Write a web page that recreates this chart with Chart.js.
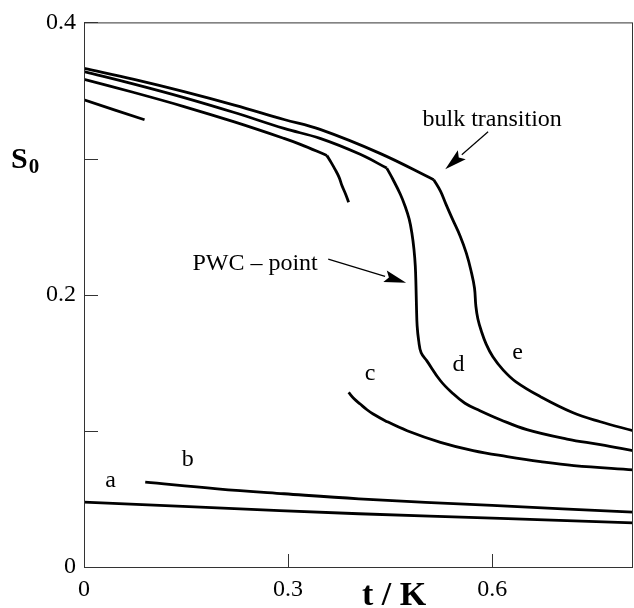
<!DOCTYPE html>
<html>
<head>
<meta charset="utf-8">
<script src="https://cdn.jsdelivr.net/npm/chart.js@4.4.1/dist/chart.umd.min.js"></script>
<style>
  html, body { margin: 0; padding: 0; background: #fff; }
</style>
</head>
<body>
<canvas id="chart" width="634" height="608"></canvas>
<script>
// values: t/K on x, S0 on y
// each curve with a corner is split into the branch before and after it
const eHighT = [0, 0.0735, 0.147, 0.221, 0.294, 0.347, 0.435, 0.514];
const eHighS = [0.3663, 0.3582, 0.3492, 0.3393, 0.3287, 0.3214, 0.3038, 0.2845];
const eLowT = [0.514, 0.524, 0.532, 0.541, 0.553, 0.562, 0.569, 0.574, 0.576, 0.579, 0.584, 0.591, 0.601, 0.616, 0.635, 0.671, 0.719, 0.759, 0.807];
const eLowS = [0.2845, 0.2760, 0.2665, 0.2562, 0.2430, 0.2305, 0.2174, 0.2049, 0.1917, 0.1822, 0.1734, 0.1639, 0.1544, 0.1448, 0.1360, 0.1251, 0.1133, 0.1067, 0.1001];

const dHighT = [0, 0.0735, 0.147, 0.221, 0.294, 0.347, 0.406, 0.445];
const dHighS = [0.3639, 0.3547, 0.3448, 0.3338, 0.3221, 0.3148, 0.3031, 0.2930];
const dLowT = [0.445, 0.454, 0.465, 0.472, 0.478, 0.482, 0.485, 0.487, 0.488, 0.4887, 0.4897, 0.492, 0.4956, 0.504, 0.524, 0.541, 0.560, 0.582, 0.612, 0.651, 0.710, 0.759, 0.807];
const dLowS = [0.2930, 0.2848, 0.2738, 0.2650, 0.2555, 0.2452, 0.2335, 0.2210, 0.2064, 0.1917, 0.1771, 0.1661, 0.1573, 0.1514, 0.1368, 0.1280, 0.1203, 0.1148, 0.1082, 0.1009, 0.0940, 0.0899, 0.0855];

// third upper branch (ends near t = 0.39)
const fHighT = [0, 0.0735, 0.147, 0.221, 0.294, 0.318, 0.357];
const fHighS = [0.3582, 0.3485, 0.3382, 0.3269, 0.3148, 0.3104, 0.3023];
const fLowT = [0.357, 0.3632, 0.369, 0.375, 0.379, 0.3846, 0.389];
const fLowS = [0.3023, 0.2972, 0.2921, 0.2862, 0.2804, 0.2738, 0.2679];

// short branch top left
const shortT = [0, 0.089];
const shortS = [0.3431, 0.3285];

const cT = [0.389, 0.397, 0.406, 0.416, 0.425, 0.4426, 0.475, 0.524, 0.572, 0.622, 0.671, 0.720, 0.807];
const cS = [0.1282, 0.1236, 0.1197, 0.1155, 0.1124, 0.1075, 0.1001, 0.0916, 0.0855, 0.0811, 0.0774, 0.0745, 0.0714];

const bT = [0.090, 0.196, 0.294, 0.404, 0.600, 0.807];
const bS = [0.0623, 0.0574, 0.0538, 0.0501, 0.0452, 0.0403];

const aT = [0, 0.171, 0.404, 0.612, 0.807];
const aS = [0.0476, 0.0440, 0.0391, 0.0357, 0.0324];

const xTicks = [0, 0.3, 0.6];
const xTickLabels = ['0', '0.3', '0.6'];
const yTicks = [0, 0.1, 0.2, 0.3, 0.4];
const yTickLabels = ['0', '', '0.2', '', '0.4'];

const curveNames = ['a', 'b', 'c', 'd', 'e'];
const curveNameT = [0.039, 0.1525, 0.4206, 0.5504, 0.6375];
const curveNameS = [0.0635, 0.0787, 0.1417, 0.1485, 0.1575];

// annotation arrows: text position, arrow start, arrow tip (data units)
const notes = [
  { text: 'bulk transition', t: 0.600, s: 0.3287, from: [0.594, 0.3197], to: [0.531, 0.2921] },
  { text: 'PWC \u2013 point', t: 0.2515, s: 0.2225, from: [0.359, 0.2261], to: [0.4735, 0.2088] }
];

function pts(xs, ys) {
  return xs.map((x, i) => ({ x: x, y: ys[i] }));
}

function line(xs, ys) {
  return {
    data: pts(xs, ys),
    showLine: true,
    borderColor: '#000',
    borderWidth: 2.8,
    borderJoinStyle: 'round',
    pointRadius: 0,
    fill: false,
    tension: 0.4
  };
}

const serif = '"Liberation Serif", "Times New Roman", serif';

const framePlugin = {
  id: 'frame',
  afterDraw(chart) {
    const ctx = chart.ctx;
    const a = chart.chartArea;
    const xs = chart.scales.x;
    const ys = chart.scales.y;
    ctx.save();

    // box
    ctx.strokeStyle = '#333';
    ctx.lineWidth = 1;
    ctx.strokeRect(a.left + 0.5, a.top + 0.5, a.right - a.left - 1, a.bottom - a.top);

    // inward ticks
    ctx.beginPath();
    xTicks.forEach(v => {
      const px = Math.round(xs.getPixelForValue(v)) + 0.5;
      ctx.moveTo(px, a.bottom);
      ctx.lineTo(px, a.bottom - 13);
    });
    yTicks.forEach(v => {
      const py = Math.round(ys.getPixelForValue(v)) + 0.5;
      ctx.moveTo(a.left, py);
      ctx.lineTo(a.left + 14, py);
    });
    ctx.stroke();

    // curve letters
    ctx.fillStyle = '#000';
    ctx.strokeStyle = '#000';
    ctx.font = '24px ' + serif;
    ctx.textAlign = 'center';
    ctx.textBaseline = 'middle';
    curveNames.forEach((n, i) => {
      ctx.fillText(n, xs.getPixelForValue(curveNameT[i]), ys.getPixelForValue(curveNameS[i]));
    });

    // annotations with arrows
    notes.forEach(n => {
      ctx.fillText(n.text, xs.getPixelForValue(n.t), ys.getPixelForValue(n.s));
      const x0 = xs.getPixelForValue(n.from[0]), y0 = ys.getPixelForValue(n.from[1]);
      const x1 = xs.getPixelForValue(n.to[0]), y1 = ys.getPixelForValue(n.to[1]);
      const ang = Math.atan2(y1 - y0, x1 - x0);
      const len = 22, half = 6;
      const bx = x1 - len * Math.cos(ang), by = y1 - len * Math.sin(ang);
      ctx.beginPath();
      ctx.lineWidth = 1.2;
      ctx.moveTo(x0, y0);
      ctx.lineTo(bx, by);
      ctx.stroke();
      ctx.beginPath();
      ctx.moveTo(x1, y1);
      ctx.lineTo(bx + half * Math.sin(ang), by - half * Math.cos(ang));
      ctx.lineTo(bx + 4 * Math.cos(ang), by + 4 * Math.sin(ang));
      ctx.lineTo(bx - half * Math.sin(ang), by + half * Math.cos(ang));
      ctx.closePath();
      ctx.fill();
    });

    // axis titles
    ctx.textAlign = 'left';
    ctx.textBaseline = 'alphabetic';
    ctx.font = 'bold 30px ' + serif;
    ctx.fillText('S', 11, 168);
    const sw = ctx.measureText('S').width;
    ctx.font = 'bold 21px ' + serif;
    ctx.fillText('0', 11 + sw + 1, 173);

    ctx.textAlign = 'center';
    ctx.font = 'bold 34px ' + serif;
    ctx.fillText('t / K', 394, 605);

    ctx.restore();
  }
};

new Chart(document.getElementById('chart'), {
  type: 'scatter',
  data: {
    datasets: [
      line(eHighT, eHighS),
      line(eLowT, eLowS),
      line(dHighT, dHighS),
      line(dLowT, dLowS),
      line(fHighT, fHighS),
      line(fLowT, fLowS),
      line(shortT, shortS),
      line(cT, cS),
      line(bT, bS),
      line(aT, aS)
    ]
  },
  options: {
    responsive: false,
    animation: false,
    layout: { padding: { top: 21, right: 1, left: 0, bottom: 0 } },
    plugins: {
      legend: { display: false },
      tooltip: { enabled: false }
    },
    scales: {
      x: {
        type: 'linear',
        min: 0,
        max: 0.807,
        afterBuildTicks: axis => { axis.ticks = xTicks.map(v => ({ value: v })); },
        afterFit: axis => { axis.height = 41; },
        grid: { display: false, drawTicks: false },
        border: { display: false },
        ticks: {
          autoSkip: false,
          maxRotation: 0,
          padding: 8,
          color: '#000',
          font: { family: serif, size: 24 },
          callback: (v, i) => xTickLabels[i]
        }
      },
      y: {
        type: 'linear',
        min: 0,
        max: 0.4,
        afterBuildTicks: axis => { axis.ticks = yTicks.map(v => ({ value: v })); },
        afterFit: axis => { axis.width = 84; },
        grid: { display: false, drawTicks: false },
        border: { display: false },
        ticks: {
          autoSkip: false,
          padding: 8,
          color: '#000',
          font: { family: serif, size: 24 },
          callback: (v, i) => yTickLabels[i]
        }
      }
    }
  },
  plugins: [framePlugin]
});
</script>
</body>
</html>
